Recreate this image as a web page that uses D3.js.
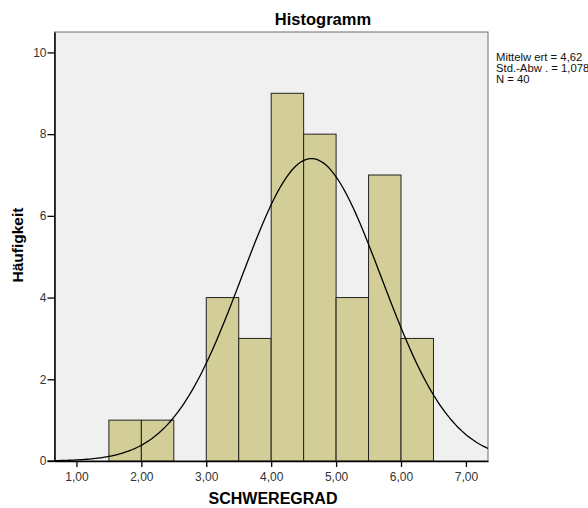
<!DOCTYPE html>
<html>
<head>
<meta charset="utf-8">
<script src="https://cdn.jsdelivr.net/npm/d3@7"></script>
<style>
  body { margin: 0; background: #fff; }
  text { font-family: Arial, "Liberation Sans", sans-serif; }
</style>
</head>
<body>
<div id="chart"></div>
<script>
// histogram bins (lower edge) and counts
const binStarts = [1.5, 2.0, 3.0, 3.5, 4.0, 4.5, 5.0, 5.5, 6.0];
const binWidth = 0.5;
const counts = [1, 1, 4, 3, 9, 8, 4, 7, 3];
const xTicks = [1, 2, 3, 4, 5, 6, 7];
const yTicks = [0, 2, 4, 6, 8, 10];
const statLines = ['Mittelw ert = 4,62', 'Std.-Abw . = 1,078', 'N = 40'];
const mean = 4.62, sd = 1.078, n = 40;

const width = 588, height = 508;
const margin = { top: 32, right: 100, bottom: 47, left: 54.5 };
const w = width - margin.left - margin.right;
const h = height - margin.top - margin.bottom;

const svg = d3.select('#chart').append('svg')
  .attr('width', width)
  .attr('height', height);

const x = d3.scaleLinear().domain([0.662, 7.34]).range([margin.left, margin.left + w]);
const y = d3.scaleLinear().domain([0, 10.5]).range([margin.top + h, margin.top]);

// plot background
svg.append('rect')
  .attr('x', margin.left).attr('y', margin.top)
  .attr('width', w).attr('height', h)
  .attr('fill', '#f0f0f0')
  .attr('stroke', '#6e6e6e')
  .attr('stroke-width', 1);

// bars
svg.append('g').selectAll('rect')
  .data(binStarts.map((s, i) => ({ s, c: counts[i] })))
  .join('rect')
  .attr('x', d => x(d.s))
  .attr('y', d => y(d.c))
  .attr('width', d => x(d.s + binWidth) - x(d.s))
  .attr('height', d => y(0) - y(d.c))
  .attr('fill', '#d3ce97')
  .attr('stroke', '#222')
  .attr('stroke-width', 1);

// normal curve from mean / sd
const curvePts = d3.range(0, 201).map(i => {
  const xv = x.domain()[0] + (x.domain()[1] - x.domain()[0]) * i / 200;
  const z = (xv - mean) / sd;
  return [xv, n * binWidth / (sd * Math.sqrt(2 * Math.PI)) * Math.exp(-0.5 * z * z)];
});
svg.append('path')
  .datum(curvePts)
  .attr('fill', 'none')
  .attr('stroke', '#000')
  .attr('stroke-width', 1.3)
  .attr('d', d3.line().x(d => x(d[0])).y(d => y(d[1])));

// axes
const fmt = d => d.toFixed(2).replace('.', ',');
const xAxis = svg.append('g')
  .attr('transform', `translate(0, ${y(0)})`)
  .call(d3.axisBottom(x).tickValues(xTicks).tickSize(6).tickSizeOuter(0).tickFormat(fmt));
xAxis.select('.domain').attr('stroke', '#000').attr('stroke-width', 1.5);
xAxis.selectAll('line').attr('stroke', '#000').attr('stroke-width', 1.3);
xAxis.selectAll('text').attr('font-size', 12).attr('fill', '#333').attr('dy', '0.9em');

const yAxis = svg.append('g')
  .attr('transform', `translate(${margin.left}, 0)`)
  .call(d3.axisLeft(y).tickValues(yTicks).tickSize(7).tickSizeOuter(0).tickPadding(1));
yAxis.select('.domain').attr('stroke', '#000').attr('stroke-width', 1.5);
yAxis.selectAll('line').attr('stroke', '#000').attr('stroke-width', 1.3);
yAxis.selectAll('text').attr('font-size', 12).attr('fill', '#333');

// extend bottom line left past the y axis
svg.append('line')
  .attr('x1', margin.left - 7).attr('x2', margin.left)
  .attr('y1', y(0)).attr('y2', y(0))
  .attr('stroke', '#000').attr('stroke-width', 1.3);

// titles
svg.append('text')
  .attr('x', 323).attr('y', 25)
  .attr('text-anchor', 'middle')
  .attr('font-size', 16.5).attr('font-weight', 'bold')
  .text('Histogramm');

svg.append('text')
  .attr('x', 273).attr('y', 504)
  .attr('text-anchor', 'middle')
  .attr('font-size', 16).attr('font-weight', 'bold')
  .text('SCHWEREGRAD');

svg.append('text')
  .attr('transform', 'translate(23, 245) rotate(-90)')
  .attr('text-anchor', 'middle')
  .attr('font-size', 15.5).attr('font-weight', 'bold')
  .text('Häufigkeit');

// statistics
svg.append('g').selectAll('text')
  .data(statLines)
  .join('text')
  .attr('x', 496)
  .attr('y', (d, i) => 61 + i * 11)
  .attr('font-size', 11.3)
  .attr('fill', '#111')
  .text(d => d);
</script>
</body>
</html>
